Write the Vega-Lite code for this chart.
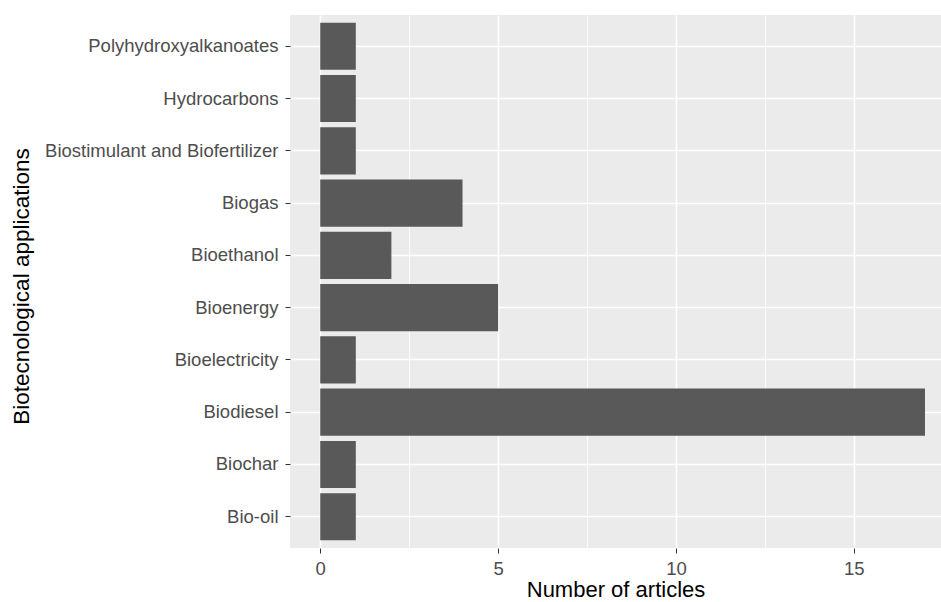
{
  "$schema": "https://vega.github.io/schema/vega-lite/v6.json",
  "autosize": {"type": "none"},
  "width": 651,
  "height": 533,
  "padding": {"left": 290, "top": 15, "right": 0, "bottom": 54},
  "background": "white",
  "config": {
    "view": {"fill": "#EBEBEB", "stroke": null},
    "font": "Liberation Sans"
  },
  "data": {
    "values": [
      {"app": "Bio-oil", "n": 1},
      {"app": "Biochar", "n": 1},
      {"app": "Biodiesel", "n": 17},
      {"app": "Bioelectricity", "n": 1},
      {"app": "Bioenergy", "n": 5},
      {"app": "Bioethanol", "n": 2},
      {"app": "Biogas", "n": 4},
      {"app": "Biostimulant and Biofertilizer", "n": 1},
      {"app": "Hydrocarbons", "n": 1},
      {"app": "Polyhydroxyalkanoates", "n": 1}
    ]
  },
  "resolve": {"axis": {"x": "independent", "y": "independent"}},
  "layer": [
    {
      "mark": {"type": "bar", "opacity": 0},
      "encoding": {
        "y": {
          "field": "app", "type": "nominal",
          "sort": ["Polyhydroxyalkanoates", "Hydrocarbons", "Biostimulant and Biofertilizer", "Biogas", "Bioethanol", "Bioenergy", "Bioelectricity", "Biodiesel", "Biochar", "Bio-oil"],
          "scale": {"paddingInner": 0.1, "paddingOuter": 0.15},
          "axis": null
        },
        "x": {
          "field": "n", "type": "quantitative",
          "scale": {"domain": [-0.85, 17.45], "nice": false, "zero": false},
          "axis": {
            "orient": "bottom", "values": [2.5, 7.5, 12.5, 17.5],
            "grid": true, "gridColor": "white", "gridWidth": 0.8,
            "labels": false, "ticks": false, "domain": false, "title": null
          }
        }
      }
    },
    {
      "mark": {"type": "bar", "color": "#595959"},
      "encoding": {
        "y": {
          "field": "app", "type": "nominal",
          "sort": ["Polyhydroxyalkanoates", "Hydrocarbons", "Biostimulant and Biofertilizer", "Biogas", "Bioethanol", "Bioenergy", "Bioelectricity", "Biodiesel", "Biochar", "Bio-oil"],
          "scale": {"paddingInner": 0.1, "paddingOuter": 0.15},
          "axis": {
            "title": "Biotecnological applications",
            "bandPosition": 0.5,
            "grid": true, "gridColor": "white", "gridWidth": 1.6,
            "domain": false,
            "tickColor": "#333333", "tickSize": 5, "tickWidth": 1,
            "labelColor": "#4D4D4D", "labelFontSize": 18.5, "labelPadding": 7, "labelLimit": 400,
            "titleColor": "black", "titleFontSize": 22.5, "titleFontWeight": "normal",
            "titleX": -257, "titleY": 271, "titleAngle": -90, "titleAlign": "center", "titleBaseline": "bottom"
          }
        },
        "x": {
          "field": "n", "type": "quantitative",
          "scale": {"domain": [-0.85, 17.45], "nice": false, "zero": false},
          "axis": {
            "orient": "bottom", "values": [0, 5, 10, 15],
            "title": "Number of articles",
            "grid": true, "gridColor": "white", "gridWidth": 1.6,
            "domain": false,
            "tickColor": "#333333", "tickSize": 5, "tickWidth": 1,
            "labelColor": "#4D4D4D", "labelFontSize": 18.5, "labelPadding": 6,
            "titleColor": "black", "titleFontSize": 22, "titleFontWeight": "normal",
            "titlePadding": 2
          }
        }
      }
    }
  ]
}
